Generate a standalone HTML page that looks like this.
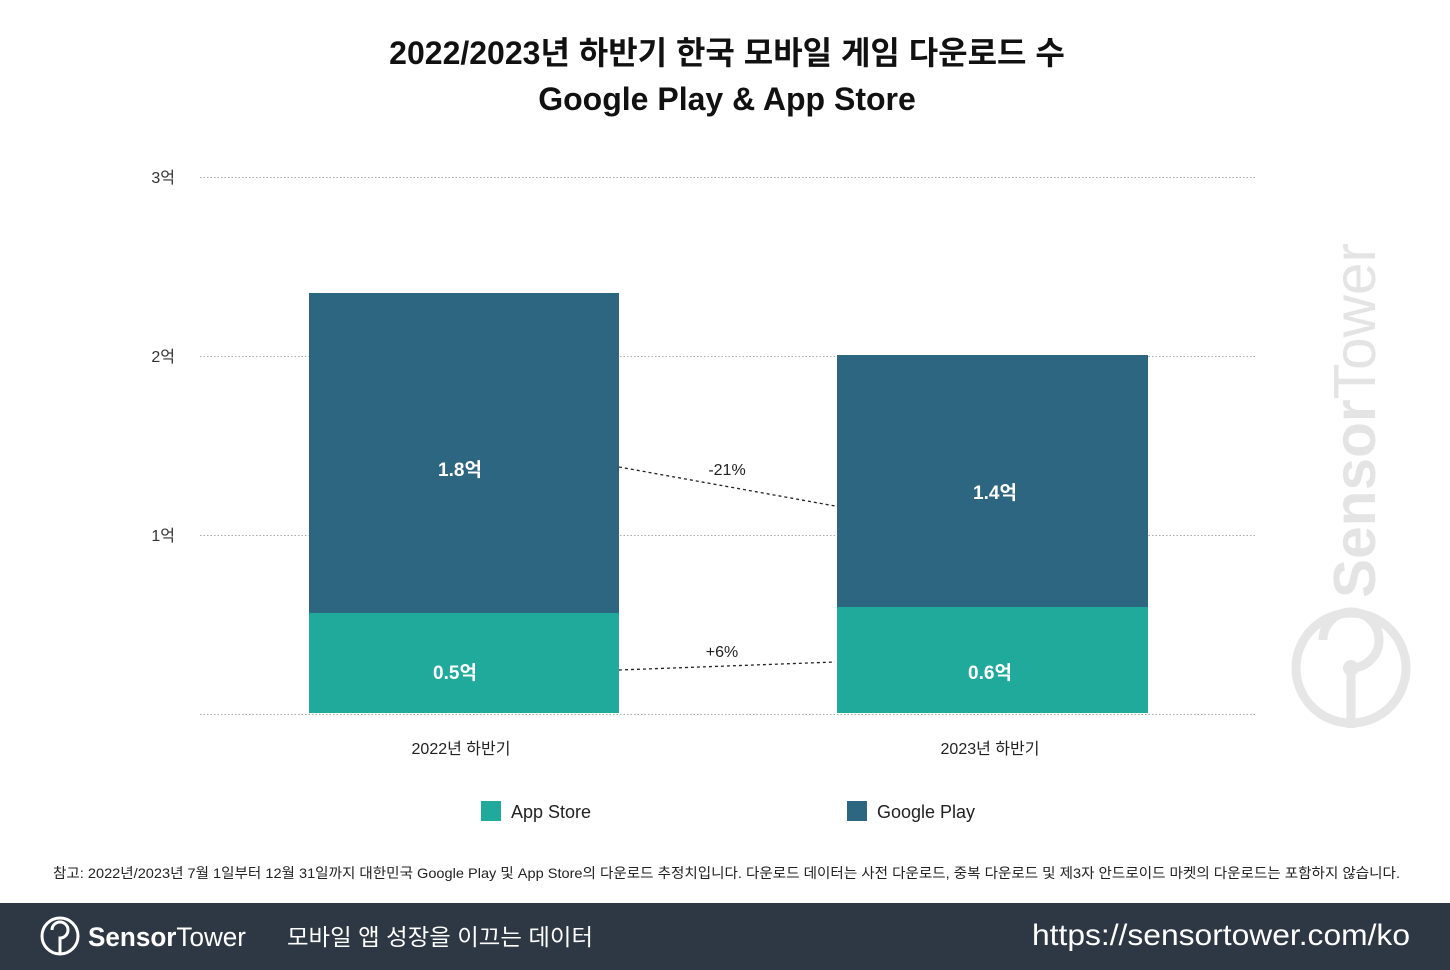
<!DOCTYPE html>
<html><head><meta charset="utf-8"><style>
html,body{margin:0;padding:0;background:#fff;}
body{width:1450px;height:970px;overflow:hidden;position:relative;font-family:"Liberation Sans","Noto Sans CJK KR",sans-serif;}
</style></head><body>
<svg width="1450" height="970" xmlns="http://www.w3.org/2000/svg" style="position:absolute;left:0;top:0" font-family="Liberation Sans, Noto Sans CJK KR, sans-serif">
<text x="727" y="64" text-anchor="middle" font-size="32" font-weight="bold" fill="#111">2022/2023년 하반기 한국 모바일 게임 다운로드 수</text>
<text x="727" y="110" text-anchor="middle" font-size="32" font-weight="bold" fill="#111">Google Play &amp; App Store</text>
<g stroke="#aaa" stroke-dasharray="1.5,2" stroke-width="1">
<line x1="200" y1="177.5" x2="1255" y2="177.5"/>
<line x1="200" y1="356.5" x2="1255" y2="356.5"/>
<line x1="200" y1="535.5" x2="1255" y2="535.5"/>
<line x1="200" y1="714.5" x2="1255" y2="714.5"/>
</g>
<g font-size="16" fill="#333" text-anchor="end">
<text x="175" y="183">3억</text><text x="175" y="362">2억</text><text x="175" y="541">1억</text>
</g>
<text transform="translate(1375,598) rotate(-90)" font-size="59" font-weight="bold" fill="#e4e4e4" textLength="355" lengthAdjust="spacingAndGlyphs">Sensor<tspan font-weight="normal">Tower</tspan></text>
<circle cx="1351" cy="668" r="55" fill="none" stroke="#e6e6e6" stroke-width="9"/>
<path d="M1351 728 L1351 668 A28 28 0 1 0 1323 640" fill="none" stroke="#e6e6e6" stroke-width="9"/>
<circle cx="1351" cy="668" r="8" fill="#e6e6e6"/>
<rect x="309" y="293" width="310" height="320" fill="#2d6680"/>
<rect x="309" y="613" width="310" height="100" fill="#1faa9c"/>
<rect x="837" y="355" width="311" height="252" fill="#2d6680"/>
<rect x="837" y="607" width="311" height="106" fill="#1faa9c"/>
<g font-size="19" font-weight="bold" fill="#fff" text-anchor="middle">
<text x="460" y="476">1.8억</text><text x="455" y="679">0.5억</text>
<text x="995" y="499">1.4억</text><text x="990" y="679">0.6억</text>
</g>
<g stroke="#222" stroke-dasharray="3,3" stroke-width="1.3">
<line x1="619" y1="467" x2="835" y2="506"/>
<line x1="619" y1="670" x2="835" y2="662"/>
</g>
<g font-size="16" fill="#222" text-anchor="middle">
<text x="727" y="475">-21%</text><text x="722" y="657">+6%</text>
<text x="461" y="754">2022년 하반기</text><text x="990" y="754">2023년 하반기</text>
</g>
<rect x="481" y="801" width="20" height="20" fill="#1faa9c"/>
<text x="511" y="818" font-size="18" fill="#222">App Store</text>
<rect x="847" y="801" width="20" height="20" fill="#2d6680"/>
<text x="877" y="818" font-size="18" fill="#222">Google Play</text>
<text x="53" y="878" font-size="14" fill="#222" textLength="1347" lengthAdjust="spacingAndGlyphs">참고: 2022년/2023년 7월 1일부터 12월 31일까지 대한민국 Google Play 및 App Store의 다운로드 추정치입니다. 다운로드 데이터는 사전 다운로드, 중복 다운로드 및 제3자 안드로이드 마켓의 다운로드는 포함하지 않습니다.</text>
<rect x="0" y="903" width="1450" height="67" fill="#2e3744"/>
<circle cx="60" cy="936" r="18" fill="none" stroke="#fff" stroke-width="3"/>
<path d="M60 954 L60 938 A8 8 0 1 0 52 930" fill="none" stroke="#fff" stroke-width="3"/>
<text x="88" y="946" font-size="27" fill="#fff" font-weight="bold" textLength="158" lengthAdjust="spacingAndGlyphs">Sensor<tspan font-weight="normal">Tower</tspan></text>
<text x="287" y="945" font-size="23" fill="#fff" textLength="306" lengthAdjust="spacingAndGlyphs">모바일 앱 성장을 이끄는 데이터</text>
<text x="1410" y="945" font-size="30" fill="#fff" text-anchor="end" textLength="378" lengthAdjust="spacingAndGlyphs">https://sensortower.com/ko</text>
</svg>
</body></html>
